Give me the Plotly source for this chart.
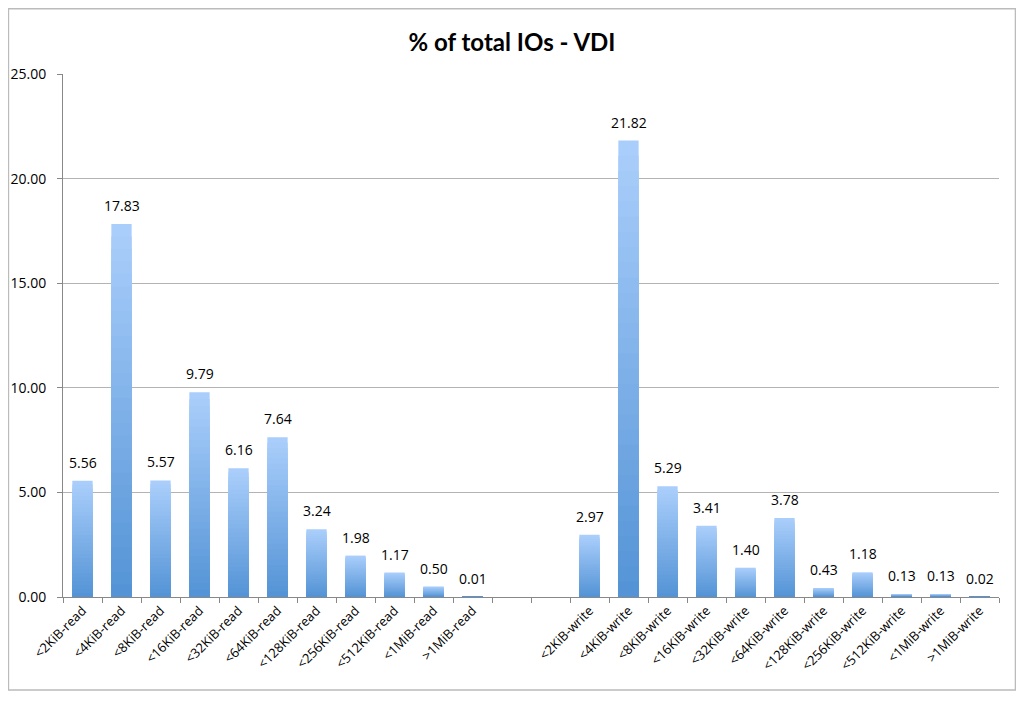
import plotly.graph_objects as go

categories = ["<2KiB-read", "<4KiB-read", "<8KiB-read", "<16KiB-read", "<32KiB-read",
              "<64KiB-read", "<128KiB-read", "<256KiB-read", "<512KiB-read", "<1MiB-read",
              ">1MiB-read", " ", "  ",
              "<2KiB-write", "<4KiB-write", "<8KiB-write", "<16KiB-write", "<32KiB-write",
              "<64KiB-write", "<128KiB-write", "<256KiB-write", "<512KiB-write", "<1MiB-write",
              ">1MiB-write"]
values = [5.56, 17.83, 5.57, 9.79, 6.16, 7.64, 3.24, 1.98, 1.17, 0.50, 0.01, None, None,
          2.97, 21.82, 5.29, 3.41, 1.40, 3.78, 0.43, 1.18, 0.13, 0.13, 0.02]

top_rgb = (170, 206, 251)
bottom_rgb = (84, 148, 214)
steps = 30

fig = go.Figure()
for k in range(steps):
    frac = 1 - k / steps
    t = k / (steps - 1)
    c = tuple(round(top_rgb[i] + (bottom_rgb[i] - top_rgb[i]) * t) for i in range(3))
    ys = [None if v is None else v * frac for v in values]
    fig.add_trace(go.Bar(
        x=categories, y=ys,
        marker=dict(color="rgb(%d,%d,%d)" % c, line=dict(width=0)),
        hoverinfo="skip" if k else "x+y",
        showlegend=False,
    ))

annotations = [
    dict(x=cat, y=v, text="%.2f" % v, showarrow=False, xanchor="center", yanchor="bottom",
         yshift=7, font=dict(size=14, color="black", family="Open Sans"))
    for cat, v in zip(categories, values) if v is not None
]

fig.update_layout(
    barmode="overlay",
    bargap=0.48,
    width=1008, height=685,
    paper_bgcolor="white", plot_bgcolor="white",
    margin=dict(l=55, r=17, t=66, b=96),
    title=dict(text="<b>% of total IOs - VDI</b>", x=0.5, xanchor="center", y=0.95, yanchor="middle",
               font=dict(size=24, color="black", family="Lato")),
    xaxis=dict(type="category", categoryorder="array", categoryarray=categories,
               range=[-0.5, len(categories) - 0.5],
               tickson="boundaries", ticks="outside", ticklen=5, tickcolor="#888888",
               showline=True, linecolor="#888888", linewidth=1, automargin=False,
               tickangle=-45, tickfont=dict(size=13, color="black", family="Open Sans"),
               showgrid=False),
    yaxis=dict(range=[0, 25], dtick=5, tickformat=".2f", showgrid=True, gridcolor="#b3b3b3",
               showline=True, linecolor="#888888", linewidth=1, ticks="outside", ticklen=5,
               tickcolor="#888888", tickfont=dict(size=14, color="black", family="Open Sans"),
               ticklabelstandoff=8,
               zeroline=False, automargin=False),
    annotations=annotations,
    shapes=[dict(type="rect", xref="paper", yref="paper", x0=-0.0583, x1=1.0176, y0=-0.178, y1=1.125,
                 line=dict(color="#bbbbbb", width=1.5))],
)

fig.write_html("out.html")
